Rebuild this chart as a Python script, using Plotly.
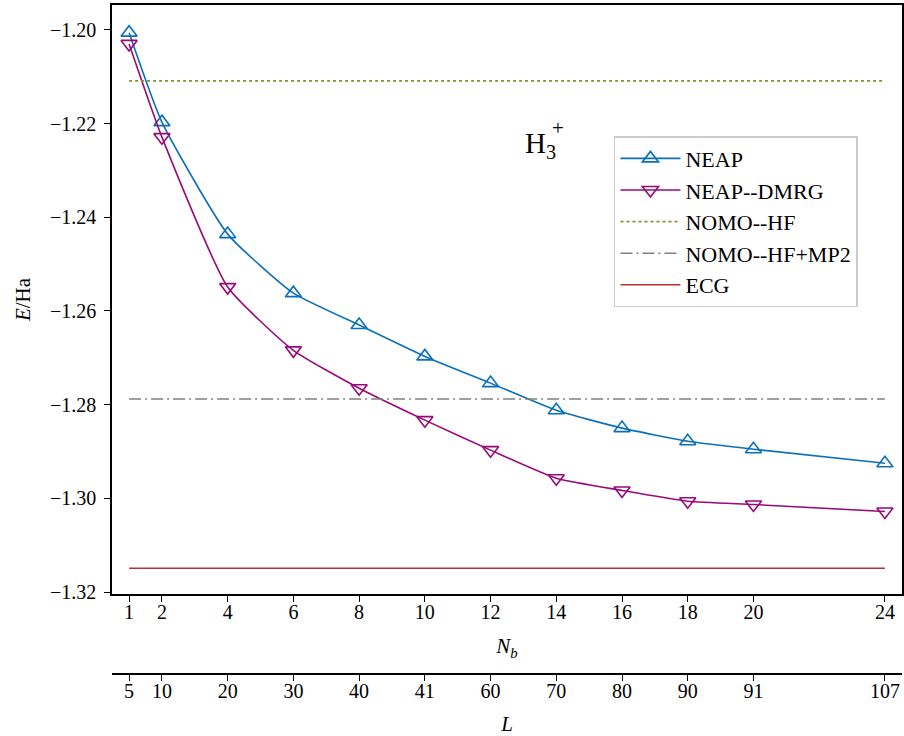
import plotly.graph_objects as go

# ---- data ----
Nb = [1, 2, 4, 6, 8, 10, 12, 14, 16, 18, 20, 24]
L_labels = ["5", "10", "20", "30", "40", "41", "60", "70", "80", "90", "91", "107"]
neap = [-1.2006, -1.2197, -1.2436, -1.2562, -1.2630, -1.2697, -1.2754, -1.2812,
        -1.2850, -1.2878, -1.2895, -1.2925]
neap_dmrg = [-1.2030, -1.2229, -1.2549, -1.2684, -1.2765, -1.2833, -1.2897, -1.2957,
             -1.2983, -1.3006, -1.3013, -1.3028]
nomo_hf = -1.2109
nomo_mp2 = -1.2788
ecg = -1.3149
y_ticks = [-1.32, -1.30, -1.28, -1.26, -1.24, -1.22, -1.20]

FONT = "Liberation Serif"
BLUE = "#0b6fba"
PURPLE = "#990a78"
OLIVE = "#8a9030"
GRAY = "#808080"
RED = "#b83232"

fig = go.Figure()
fig.add_trace(go.Scatter(x=Nb, y=neap, name="NEAP", mode="lines+markers",
                         line=dict(color=BLUE, width=1.6, shape="spline", smoothing=0.5),
                         marker=dict(symbol="triangle-up-open", size=14, color=BLUE,
                                     line=dict(width=1.6))))
fig.add_trace(go.Scatter(x=Nb, y=neap_dmrg, name="NEAP--DMRG", mode="lines+markers",
                         line=dict(color=PURPLE, width=1.6, shape="spline", smoothing=0.5),
                         marker=dict(symbol="triangle-down-open", size=14, color=PURPLE,
                                     line=dict(width=1.6))))
fig.add_trace(go.Scatter(x=[Nb[0], Nb[-1]], y=[nomo_hf, nomo_hf], name="NOMO--HF", mode="lines",
                         line=dict(color=OLIVE, width=1.6, dash="dot")))
fig.add_trace(go.Scatter(x=[Nb[0], Nb[-1]], y=[nomo_mp2, nomo_mp2], name="NOMO--HF+MP2", mode="lines",
                         line=dict(color=GRAY, width=1.6, dash="12px,4px,2px,4px")))
fig.add_trace(go.Scatter(x=[Nb[0], Nb[-1]], y=[ecg, ecg], name="ECG", mode="lines",
                         line=dict(color=RED, width=1.6)))
# invisible trace to carry the secondary L axis
fig.add_trace(go.Scatter(x=Nb, y=[None] * len(Nb), xaxis="x2", yaxis="y", showlegend=False,
                         hoverinfo="skip", mode="markers", marker=dict(opacity=0)))

xr = [0.48, 24.52]
axis_common = dict(linecolor="black", linewidth=1.6, ticks="outside", ticklen=6,
                   tickwidth=1.4, tickcolor="black", showgrid=False, zeroline=False,
                   automargin=False, tickfont=dict(size=20))
fig.update_layout(
    width=904, height=736,
    margin=dict(l=112, r=2, t=5, b=62),
    paper_bgcolor="white", plot_bgcolor="white",
    font=dict(family=FONT, size=20, color="black"),
    showlegend=True,
    legend=dict(x=0.6354, y=0.804, xanchor="left", yanchor="top",
                bordercolor="#cccccc", borderwidth=1.5, bgcolor="white",
                itemwidth=60, font=dict(family=FONT, size=22)),
    xaxis=dict(range=xr, tickvals=Nb, ticktext=[str(v) for v in Nb],
               showline=True, mirror=True, ticklabelstandoff=-7,
               title=dict(text="<i>N<sub>b</sub></i>", standoff=17, font=dict(size=21)),
               **axis_common),
    xaxis2=dict(range=xr, tickvals=Nb, ticktext=L_labels, overlaying="x", anchor="free",
                position=0, side="bottom", showline=True, ticklabelstandoff=-7,
                title=dict(text="<i>L</i>", standoff=16, font=dict(size=21)),
                **axis_common),
    yaxis=dict(range=[-1.3204, -1.1947], domain=[0.1196, 1],
               tickvals=y_ticks, tickformat=".2f", ticklabelstandoff=4,
               showline=True, mirror=True,
               title=dict(text="<i>E</i>/Ha", standoff=14, font=dict(size=21)),
               **axis_common),
    annotations=[
        dict(text="H<sub>3</sub>", x=12.98, y=-1.2246, xref="x", yref="y",
             xanchor="left", yanchor="middle", showarrow=False,
             font=dict(family=FONT, size=29)),
        dict(text="+", x=14.06, y=-1.2210, xref="x", yref="y",
             xanchor="center", yanchor="middle", showarrow=False,
             font=dict(family=FONT, size=21)),
    ],
)

fig.write_html("out.html", config={"displayModeBar": False},
               post_script="document.body.style.margin='0';")
